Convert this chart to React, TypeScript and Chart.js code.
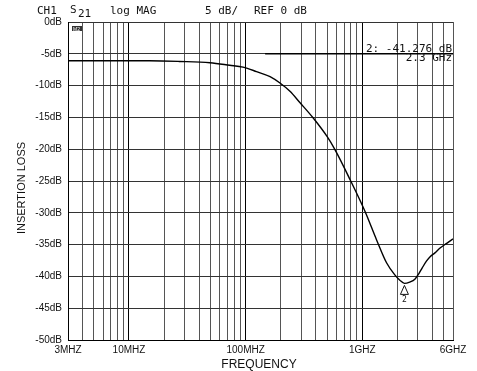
import React, { useEffect, useRef } from 'react';
import { Chart, registerables } from 'chart.js';

Chart.register(...registerables);

// Measured insertion loss (S21), frequency in MHz
const freqMHz = [3, 15, 27, 49.5, 73, 95, 124, 162, 197, 240, 293, 380, 499, 585, 787, 1057, 1330, 1620, 1910, 2100, 2300, 2550, 2840, 3050, 3260, 3550, 3820, 4200, 4680, 5300, 6000];
const lossDb = [-6.1, -6.1, -6.2, -6.4, -6.8, -7.1, -7.8, -8.6, -9.6, -10.9, -12.7, -15.1, -18.0, -20.1, -24.8, -29.8, -34.3, -37.9, -39.8, -40.6, -41.1, -40.9, -40.4, -39.6, -38.7, -37.6, -36.9, -36.3, -35.5, -34.8, -34.1];

// Reference line segment (darker part of the -5 dB line)
const refLineFreq = [147, 6000];
const refLineDb = [-5, -5];

// Log grid positions (MHz)
const gridFreqs = [3, 4, 5, 6, 7, 8, 9, 10, 20, 30, 40, 50, 60, 70, 80, 90, 100, 200, 300, 400, 500, 600, 700, 800, 900, 1000, 2000, 3000, 4000, 5000, 6000];
const labelFreqs = [3, 10, 100, 1000, 6000];
const labelTexts = ['3MHZ', '10MHZ', '100MHZ', '1GHZ', '6GHZ'];

const markerFreq = 2300;
const markerDb = -41.1;
const markerLine1 = '2: -41.276 dB';
const markerLine2 = '2.3 GHz';

const SANS = '"Liberation Sans", Arial, sans-serif';
const MONO = '"DejaVu Sans Mono", "Liberation Mono", monospace';

const overlay = {
  id: 'overlay',
  afterDraw(chart: any) {
    const ctx = chart.ctx as CanvasRenderingContext2D;
    const xs = chart.scales.x;
    const ys = chart.scales.y;
    ctx.save();
    ctx.fillStyle = '#111';
    // Header
    ctx.font = `11px ${MONO}`;
    ctx.textBaseline = 'alphabetic';
    ctx.textAlign = 'left';
    ctx.fillText('CH1', 37, 14);
    ctx.fillText('S', 70, 13);
    ctx.fillText('21', 78, 17);
    ctx.fillText('log MAG', 110, 14);
    ctx.fillText('5 dB/', 205, 14);
    ctx.fillText('REF 0 dB', 254, 14);

    // small marker box at top-left of grid
    ctx.fillStyle = '#333';
    ctx.fillRect(72, 26, 10, 5);
    ctx.fillStyle = '#fff';
    ctx.font = `5px ${SANS}`;
    ctx.fillText('M2', 73, 30.5);

    // Marker readout
    ctx.fillStyle = '#111';
    ctx.font = `11px ${MONO}`;
    ctx.textAlign = 'right';
    ctx.fillText(markerLine1, 452, 52);
    ctx.fillText(markerLine2, 452, 61);

    // Marker triangle
    const mx = xs.getPixelForValue(markerFreq);
    const my = ys.getPixelForValue(markerDb);
    ctx.strokeStyle = '#111';
    ctx.lineWidth = 1;
    ctx.beginPath();
    ctx.moveTo(mx, my + 2);
    ctx.lineTo(mx - 4, my + 11);
    ctx.lineTo(mx + 4, my + 11);
    ctx.closePath();
    ctx.stroke();
    ctx.font = `8px ${MONO}`;
    ctx.textAlign = 'center';
    ctx.fillText('2', mx, my + 19);

    // Axis titles
    ctx.font = `12px ${SANS}`;
    ctx.textAlign = 'center';
    ctx.textBaseline = 'middle';
    ctx.fillText('FREQUENCY', 259, 365);
    ctx.save();
    ctx.translate(22, 188);
    ctx.rotate(-Math.PI / 2);
    ctx.font = `11px ${SANS}`;
    ctx.fillText('INSERTION LOSS', 0, 0);
    ctx.restore();
    ctx.restore();
  },
};

export default function App() {
  const ref = useRef<HTMLCanvasElement | null>(null);
  useEffect(() => {
    if (!ref.current) return;
    const chart = new Chart(ref.current, {
      type: 'line',
      data: {
        datasets: [
          {
            data: freqMHz.map((f, i) => ({ x: f, y: lossDb[i] })),
            borderColor: '#000',
            borderWidth: 1.4,
            pointRadius: 0,
            cubicInterpolationMode: 'monotone',
            fill: false,
          },
          {
            data: refLineFreq.map((f, i) => ({ x: f, y: refLineDb[i] })),
            borderColor: '#000',
            borderWidth: 1.5,
            pointRadius: 0,
            fill: false,
          },
        ],
      },
      options: {
        animation: false,
        responsive: false,
        devicePixelRatio: 1,
        layout: { padding: { left: 0, right: 24, top: 22, bottom: 0 } },
        plugins: { legend: { display: false }, tooltip: { enabled: false } },
        scales: {
          x: {
            type: 'logarithmic',
            min: 3,
            max: 6000,
            afterBuildTicks: (scale: any) => {
              scale.ticks = gridFreqs.map((v) => ({ value: v }));
            },
            afterFit: (scale: any) => {
              scale.height = 31;
            },
            ticks: {
              autoSkip: false,
              maxRotation: 0,
              minRotation: 0,
              padding: 4,
              color: '#111',
              font: { family: SANS, size: 10 },
              callback: (value: any) => {
                const i = labelFreqs.indexOf(Number(value));
                return i >= 0 ? labelTexts[i] : '';
              },
            },
            grid: {
              drawTicks: false,
              color: (c: any) => {
                const v = c.tick ? c.tick.value : 0;
                return v === 10 || v === 100 || v === 1000 ? '#000' : '#555';
              },
              lineWidth: 1,
            },
            border: { color: '#000', width: 1 },
          },
          y: {
            min: -50,
            max: 0,
            afterFit: (scale: any) => {
              scale.width = 68;
            },
            ticks: {
              stepSize: 5,
              padding: 6,
              color: '#111',
              font: { family: SANS, size: 10 },
              callback: (v: any) => `${v}dB`,
            },
            grid: { drawTicks: false, color: '#333', lineWidth: 1 },
            border: { color: '#000', width: 1 },
          },
        },
      },
      plugins: [overlay],
    } as any);
    return () => chart.destroy();
  }, []);
  return (
    <div style={{ position: 'absolute', left: 0, top: 0, width: 477, height: 371, background: '#fff' }}>
      <canvas ref={ref} width={477} height={371} />
    </div>
  );
}
